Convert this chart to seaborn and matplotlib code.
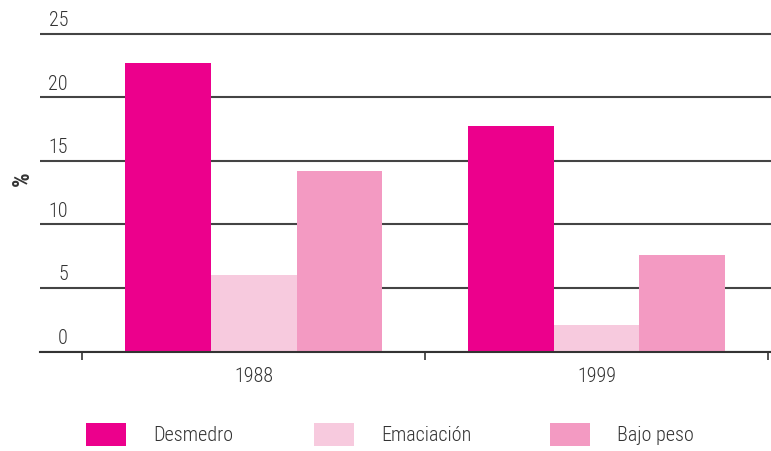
import seaborn as sns
import matplotlib.pyplot as plt
import matplotlib.transforms as mtransforms
from matplotlib import font_manager
import pandas as pd

# Data
years = ["1988", "1999"]
indicators = ["Desmedro", "Emaciación", "Bajo peso"]
desmedro = [22.7, 17.7]
emaciacion = [6.0, 2.1]
bajo_peso = [14.2, 7.6]
yticks = [0, 5, 10, 15, 20, 25]

colors = ["#EC008C", "#F7CADE", "#F39AC2"]
text_color = "#333333"

df = pd.DataFrame({
    "year": years * 3,
    "indicator": [ind for ind in indicators for _ in years],
    "value": desmedro + emaciacion + bajo_peso,
})

# Styling
sns.set_style("white")
available = {f.name for f in font_manager.fontManager.ttflist}
font = "DejaVu Sans"
for cand in ["Liberation Sans Narrow", "Roboto Condensed", "DejaVu Sans Condensed"]:
    if cand in available:
        font = cand
        break
plt.rcParams["font.family"] = [font, "DejaVu Sans"]
plt.rcParams["font.weight"] = "light"
fs = 14.5 if font != "DejaVu Sans" else 11.5

fig = plt.figure(figsize=(7.71, 4.51), dpi=100)
ax = fig.add_axes([40 / 771, 99.5 / 451, 731 / 771, 320.5 / 451])

sns.barplot(
    data=df, x="year", y="value", hue="indicator",
    order=years, hue_order=indicators, palette=colors,
    saturation=1, width=0.75, errorbar=None,
    edgecolor="none", linewidth=0, ax=ax,
)

handles, labels = ax.get_legend_handles_labels()
ax.get_legend().remove()

ax.set_ylim(0, 25.2)
ax.set_xlim(-0.624, 1.509)

# horizontal grid behind the bars
ax.set_axisbelow(True)
ax.yaxis.grid(True, color="#444444", linewidth=1.5)
ax.set_yticks(yticks)
ax.set_yticklabels([])
ax.tick_params(axis="y", length=0)

# y tick labels sit above their gridlines
off = mtransforms.offset_copy(ax.get_yaxis_transform(), fig=fig, x=0, y=7.5, units="dots")
for v in yticks:
    ax.text(28 / 731, v, str(v), transform=off, ha="right", va="baseline",
            fontsize=fs, color=text_color)

for side in ["left", "right", "top"]:
    ax.spines[side].set_visible(False)
ax.spines["bottom"].set_color("#333333")
ax.spines["bottom"].set_linewidth(1.5)

# x ticks between the groups
ax.set_xticks([-0.5, 0.5, 1.5], minor=True)
ax.tick_params(axis="x", which="minor", bottom=True, length=5.5, width=1.2,
               color="#333333", direction="out")
ax.tick_params(axis="x", which="major", length=0, pad=11,
               labelsize=fs, labelcolor=text_color)

ax.set_xlabel("")
ax.set_ylabel("%", fontsize=16.5, fontweight="bold", color=text_color)
ax.yaxis.set_label_coords(-6 / 731, 0.54)

# legend entries laid out one by one
legend_x = [86, 314, 550]
fs_px = fs * 100 / 72
for h, lab, lx in zip(handles, labels, legend_x):
    fig.legend(
        [h], [lab], loc="center left",
        bbox_to_anchor=(lx / 771, 1 - 434.5 / 451),
        frameon=False, borderpad=0, borderaxespad=0,
        handlelength=40 / fs_px, handleheight=27 / fs_px,
        handletextpad=27 / fs_px, fontsize=fs, labelcolor=text_color,
    )

plt.savefig("out.png", dpi=100)
